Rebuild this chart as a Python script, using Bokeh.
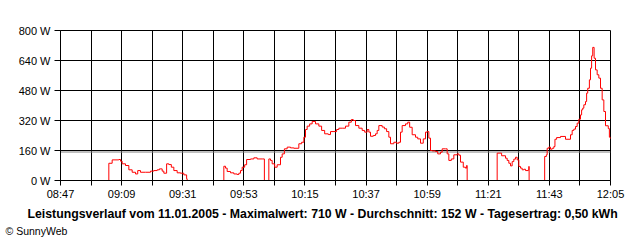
from bokeh.plotting import figure
from bokeh.models import FixedTicker, PrintfTickFormatter, Span, Title, Range1d
from bokeh.embed import file_html
from bokeh.resources import INLINE

# ---- data (time = minutes after 08:47, power in W) ----
tick_labels = ["08:47", "09:09", "09:31", "09:53", "10:15", "10:37", "10:59", "11:21", "11:43", "12:05"]
y_ticks = [0, 160, 320, 480, 640, 800]
average_w = 152

seg1_min = [17.4, 17.4, 18.6, 21.0, 21.6, 22.2, 23.4, 24.6, 25.8, 27.0, 27.8, 28.8, 30.6, 32.4, 33.6,
            34.8, 35.6, 36.6, 37.2, 38.2, 39.0, 39.9, 40.8, 42.0, 43.2, 44.4, 45.4, 45.6]
seg1_w = [0, 92, 110, 112, 103, 89, 80, 57, 44, 35, 53, 44, 44, 50, 53,
          57, 62, 50, 39, 89, 85, 71, 53, 41, 39, 30, 9, 0]

seg2_min = [58.8, 58.8, 59.4, 60.0, 61.2, 62.4, 63.6, 64.2, 64.8, 65.4, 66.3, 67.0, 68.4, 69.6, 70.8, 72.6, 73.4]
seg2_w = [0, 76, 66, 48, 41, 35, 32, 39, 53, 71, 84, 112, 115, 121, 115, 115, 0]

seg3_min = [75.0, 75.0, 75.6, 76.2, 77.1, 78.0, 79.2, 79.8, 80.6, 81.6, 82.8, 84.0, 85.8, 86.8, 87.6,
            88.2, 88.8, 89.7, 90.6, 91.8, 93.0, 94.0, 95.1, 96.4, 97.2, 99.4, 100.2, 101.4, 102.6,
            103.8, 104.7, 105.4, 106.2, 107.4, 108.6, 109.5, 110.4, 111.0, 111.6, 112.6, 113.4,
            114.0, 114.6, 115.8, 116.6, 117.4, 118.2, 118.8, 120.0, 121.0, 121.8, 122.4, 123.0,
            124.2, 125.0, 125.7, 126.6, 127.8, 128.6, 129.6, 130.6, 131.4, 132.0, 132.6, 133.2,
            133.8, 135.0, 135.8, 136.8, 137.4, 138.6, 139.2, 139.8, 140.7, 141.6, 142.8, 143.4,
            144.0, 145.0, 145.8, 146.2, 146.4]
seg3_w = [0, 115, 107, 89, 71, 84, 124, 142, 169, 178, 174, 172, 196, 204, 231,
          272, 290, 302, 315, 302, 290, 267, 249, 245, 261, 272, 279, 279, 290,
          311, 325, 320, 293, 279, 267, 258, 272, 258, 236, 240, 249,
          267, 293, 285, 276, 261, 231, 196, 204, 199, 204, 258, 293,
          302, 311, 284, 244, 231, 222, 199, 222, 258, 261, 226, 160,
          158, 155, 142, 151, 169, 169, 142, 107, 115, 137, 142, 135,
          98, 71, 66, 80, 0]

seg4_min = [157.2, 157.2, 158.8, 160.2, 160.8, 161.4, 162.0, 162.6, 163.2, 163.8, 164.4, 165.0,
            165.6, 166.2, 166.8, 167.4, 168.4, 168.6, 168.7]
seg4_w = [0, 146, 132, 119, 107, 92, 78, 101, 114, 124, 110, 75,
          66, 57, 60, 53, 57, 75, 0]

seg5_min = [174.3, 174.3, 174.9, 175.2, 175.8, 176.4, 177.0, 177.6, 178.0, 178.6, 180.0, 181.8,
            183.6, 184.2, 184.8, 185.4, 186.0, 186.6, 187.2, 187.6, 188.0, 188.4, 189.0, 189.4,
            189.8, 190.4, 190.8, 191.2, 191.6, 192.1, 192.6, 193.2, 193.8, 194.4, 195.0, 195.6,
            196.2, 197.2, 197.6, 198.0]
seg5_w = [0, 128, 137, 172, 178, 167, 172, 181, 220, 229, 235, 220,
          244, 267, 274, 288, 306, 327, 350, 377, 386, 404, 421, 466,
          492, 537, 599, 665, 710, 652, 590, 564, 546, 492, 430, 368,
          292, 277, 231, 222]

title_text = ("Leistungsverlauf vom 11.01.2005 - Maximalwert: 710 W - "
              "Durchschnitt: 152 W - Tagesertrag: 0,50 kWh")
credit_text = "\u00a9 SunnyWeb"

FONT = "Liberation Sans"

p = figure(width=640, height=240, output_backend="svg", toolbar_location=None,
           x_range=Range1d(0, 198), y_range=Range1d(0, 800),
           min_border_left=60, min_border_right=30, min_border_top=30, min_border_bottom=60)
p.background_fill_color = "white"
p.border_fill_color = "white"
p.outline_line_color = "black"
p.outline_line_width = 1
p.outline_line_alpha = 1

major_x = [22 * i for i in range(len(tick_labels))]
minor_x = [11 + 22 * i for i in range(len(tick_labels) - 1)]
p.xaxis.ticker = FixedTicker(ticks=major_x, minor_ticks=minor_x)
p.xaxis.major_label_overrides = {t: lab for t, lab in zip(major_x, tick_labels)}
p.xaxis.major_tick_out = 5
p.xaxis.major_tick_in = 0
p.xaxis.minor_tick_out = 5
p.xaxis.minor_tick_in = 0
p.xaxis.major_label_standoff = 2

p.yaxis.ticker = FixedTicker(ticks=y_ticks)
p.yaxis.formatter = PrintfTickFormatter(format="%d W")
p.yaxis.major_tick_out = 6
p.yaxis.major_tick_in = 0
p.yaxis.major_label_standoff = 4

for ax in (p.xaxis, p.yaxis):
    ax.axis_line_color = "black"
    ax.major_tick_line_color = "black"
    ax.minor_tick_line_color = "black"
    ax.major_label_text_font = FONT
    ax.major_label_text_font_size = "11px"
    ax.major_label_text_color = "black"
p.yaxis.minor_tick_line_color = None

p.xgrid.grid_line_color = "black"
p.xgrid.grid_line_alpha = 1
p.xgrid.minor_grid_line_color = "black"
p.xgrid.minor_grid_line_alpha = 1
p.ygrid.grid_line_color = "black"
p.ygrid.grid_line_alpha = 1

avg = Span(location=average_w, dimension="width", line_color="#808080", line_width=1, level="underlay")
p.add_layout(avg)

for t, w in [(seg1_min, seg1_w), (seg2_min, seg2_w), (seg3_min, seg3_w), (seg4_min, seg4_w), (seg5_min, seg5_w)]:
    p.step(t, w, mode="after", line_color="#ff0000", line_width=1)

t1 = Title(text=title_text, align="left", offset=-33, standoff=4,
           text_font=FONT, text_font_size="12.3px", text_font_style="bold", text_color="black")
p.add_layout(t1, "below")
t2 = Title(text=credit_text, align="left", offset=-55, standoff=0,
           text_font=FONT, text_font_size="10.5px", text_font_style="normal", text_color="black")
p.add_layout(t2, "below")

open("out.html", "w").write(file_html(p, INLINE))
